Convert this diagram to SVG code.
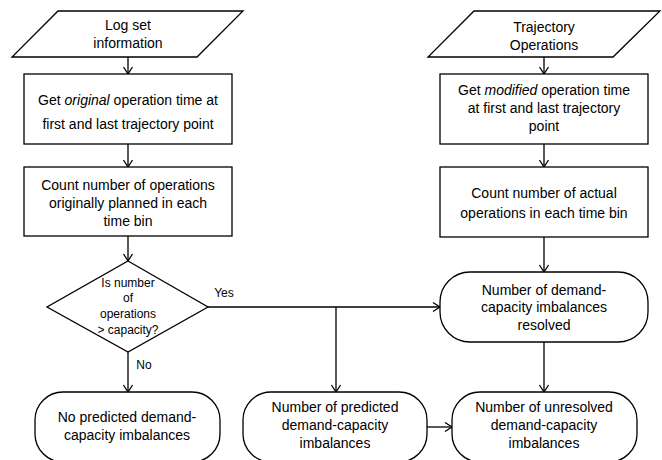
<svg xmlns="http://www.w3.org/2000/svg" width="662" height="460" viewBox="0 0 662 460">
<style>
.s{fill:#fff;stroke:#000;stroke-width:1.3}
.t{font-family:"Liberation Sans",Arial,sans-serif;font-size:14px;fill:#000;text-anchor:middle}
.d{font-size:12px}
.c{fill:none;stroke:#000;stroke-width:1.3}
</style>
<defs>
<marker id="a" markerUnits="userSpaceOnUse" markerWidth="12" markerHeight="12" viewBox="0 0 12 12" refX="9" refY="6" orient="auto">
<path d="M2,1.5 L9,6 L2,10.5" fill="none" stroke="#000" stroke-width="1.3"/>
</marker>
</defs>
<rect width="662" height="460" fill="#fff"/>
<g id="connectors">
<line class="c" x1="128" y1="57" x2="128" y2="74" marker-end="url(#a)"/>
<line class="c" x1="128" y1="144" x2="128" y2="167" marker-end="url(#a)"/>
<line class="c" x1="128" y1="236" x2="128" y2="261" marker-end="url(#a)"/>
<line class="c" x1="128" y1="352" x2="128" y2="392" marker-end="url(#a)"/>
<line class="c" x1="208" y1="307" x2="440" y2="307" marker-end="url(#a)"/>
<line class="c" x1="336" y1="307" x2="336" y2="392" marker-end="url(#a)"/>
<line class="c" x1="544" y1="57" x2="544" y2="74" marker-end="url(#a)"/>
<line class="c" x1="544" y1="144" x2="544" y2="167" marker-end="url(#a)"/>
<line class="c" x1="544" y1="237" x2="544" y2="272" marker-end="url(#a)"/>
<line class="c" x1="544" y1="342" x2="544" y2="392" marker-end="url(#a)"/>
<line class="c" x1="427" y1="427" x2="452" y2="427" marker-end="url(#a)"/>
<text class="t d" x="224" y="297">Yes</text>
<text class="t d" x="144" y="369">No</text>
</g>
<g id="log-set">
<polygon class="s" points="58,11 243,11 197,57 12,57"/>
<text class="t" x="128" y="30">Log set</text>
<text class="t" x="128" y="48">information</text>
</g>
<g id="get-original">
<rect class="s" x="24" y="74" width="208" height="70"/>
<text class="t" x="128" y="105">Get <tspan font-style="italic">original</tspan> operation time at</text>
<text class="t" x="128" y="129">first and last trajectory point</text>
</g>
<g id="count-planned">
<rect class="s" x="24" y="167" width="208" height="69"/>
<text class="t" x="128" y="190">Count number of operations</text>
<text class="t" x="128" y="208">originally planned in each</text>
<text class="t" x="128" y="226">time bin</text>
</g>
<g id="decision">
<polygon class="s" points="128,261 208,307 128,352 47,307"/>
<text class="t d" x="128" y="287">Is number</text>
<text class="t d" x="128" y="302">of</text>
<text class="t d" x="128" y="318">operations</text>
<text class="t d" x="128" y="334">&gt; capacity?</text>
</g>
<g id="no-predicted">
<rect class="s" x="35" y="392" width="185" height="70" rx="28" ry="28"/>
<text class="t" x="127" y="422">No predicted demand-</text>
<text class="t" x="127" y="440">capacity imbalances</text>
</g>
<g id="trajectory-ops">
<polygon class="s" points="474,11 660,11 613,57 428,57"/>
<text class="t" x="544" y="32">Trajectory</text>
<text class="t" x="544" y="50">Operations</text>
</g>
<g id="get-modified">
<rect class="s" x="440" y="74" width="208" height="70"/>
<text class="t" x="544" y="95">Get <tspan font-style="italic">modified</tspan> operation time</text>
<text class="t" x="544" y="113">at first and last trajectory</text>
<text class="t" x="544" y="131">point</text>
</g>
<g id="count-actual">
<rect class="s" x="440" y="167" width="208" height="70"/>
<text class="t" x="544" y="198">Count number of actual</text>
<text class="t" x="544" y="218">operations in each time bin</text>
</g>
<g id="resolved">
<rect class="s" x="440" y="272" width="208" height="70" rx="30" ry="30"/>
<text class="t" x="544" y="295">Number of demand-</text>
<text class="t" x="544" y="312">capacity imbalances</text>
<text class="t" x="544" y="330">resolved</text>
</g>
<g id="predicted">
<rect class="s" x="243" y="392" width="184" height="70" rx="28" ry="28"/>
<text class="t" x="335" y="412">Number of predicted</text>
<text class="t" x="335" y="430">demand-capacity</text>
<text class="t" x="335" y="448">imbalances</text>
</g>
<g id="unresolved">
<rect class="s" x="452" y="392" width="185" height="70" rx="28" ry="28"/>
<text class="t" x="544" y="412">Number of unresolved</text>
<text class="t" x="544" y="430">demand-capacity</text>
<text class="t" x="544" y="448">imbalances</text>
</g>
</svg>
